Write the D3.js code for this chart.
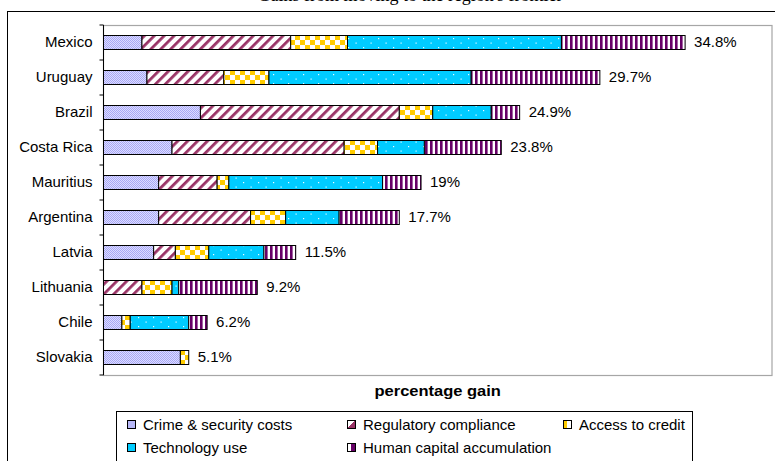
<!DOCTYPE html>
<html>
<head>
<meta charset="utf-8">
<script src="https://cdn.jsdelivr.net/npm/d3@7"></script>
<style>
  html, body { margin: 0; padding: 0; background: #fff; }
  svg { display: block; }
  text { font-family: "Liberation Sans", Arial, sans-serif; fill: #000; }
</style>
</head>
<body>
<svg id="chart" width="775" height="461"></svg>
<script>
// Countries, top to bottom
const countries = ["Mexico", "Uruguay", "Brazil", "Costa Rica", "Mauritius",
                   "Argentina", "Latvia", "Lithuania", "Chile", "Slovakia"];

// Gains (percentage points) from each factor
const crime      = [2.3, 2.6, 5.8, 4.1, 3.3, 3.3, 3.0, 0.0, 1.1, 4.6];
const regulatory = [8.9, 4.6, 11.9, 10.3, 3.5, 5.5, 1.3, 2.3, 0.0, 0.0];
const credit     = [3.4, 2.7, 2.0, 2.0, 0.7, 2.1, 2.0, 1.8, 0.5, 0.5];
const technology = [12.8, 12.1, 3.5, 2.8, 9.2, 3.2, 3.3, 0.4, 3.5, 0.0];
const humanCap   = [7.4, 7.7, 1.7, 4.6, 2.3, 3.6, 1.9, 4.7, 1.1, 0.0];

// Total gain labels
const totals = [34.8, 29.7, 24.9, 23.8, 19, 17.7, 11.5, 9.2, 6.2, 5.1];

const seriesNames = ["Crime & security costs", "Regulatory compliance", "Access to credit",
                     "Technology use", "Human capital accumulation"];
const seriesKeys = ["crime", "regulatory", "credit", "technology", "humanCap"];

const chartTitle = "Gains from moving to the region's frontier";
const axisTitle = "percentage gain";

const rows = countries.map((c, i) => ({
  country: c,
  crime: crime[i], regulatory: regulatory[i], credit: credit[i],
  technology: technology[i], humanCap: humanCap[i], total: totals[i]
}));

const svg = d3.select("#chart");

// Fill patterns for the five factors
const defs = svg.append("defs");

// crime: fine lavender stipple
const pCrime = defs.append("pattern").attr("id", "p-crime")
  .attr("patternUnits", "userSpaceOnUse").attr("width", 2).attr("height", 2);
pCrime.append("rect").attr("width", 2).attr("height", 2).attr("fill", "#dcdcff");
pCrime.append("rect").attr("width", 1).attr("height", 1).attr("fill", "#a8a8f5");
pCrime.append("rect").attr("x", 1).attr("y", 1).attr("width", 1).attr("height", 1).attr("fill", "#a8a8f5");

// regulatory: maroon diagonal stripes
const pReg = defs.append("pattern").attr("id", "p-reg")
  .attr("patternUnits", "userSpaceOnUse").attr("width", 7).attr("height", 7)
  .attr("patternTransform", "rotate(45)");
pReg.append("rect").attr("width", 7).attr("height", 7).attr("fill", "#fff");
pReg.append("rect").attr("width", 2.8).attr("height", 7).attr("fill", "#993366");

// access to credit: yellow checkerboard
const pCred = defs.append("pattern").attr("id", "p-credit")
  .attr("patternUnits", "userSpaceOnUse").attr("width", 10).attr("height", 10);
pCred.append("rect").attr("width", 10).attr("height", 10).attr("fill", "#fff");
pCred.append("rect").attr("width", 5).attr("height", 5).attr("fill", "#ffcc00");
pCred.append("rect").attr("x", 5).attr("y", 5).attr("width", 5).attr("height", 5).attr("fill", "#ffcc00");

// technology: cyan with sparse white dots
const pTech = defs.append("pattern").attr("id", "p-tech")
  .attr("patternUnits", "userSpaceOnUse").attr("width", 15).attr("height", 9);
pTech.append("rect").attr("width", 15).attr("height", 9).attr("fill", "#00ccff");
pTech.append("rect").attr("x", 3).attr("y", 2).attr("width", 1.2).attr("height", 1.2).attr("fill", "#e8fbff");
pTech.append("rect").attr("x", 10.5).attr("y", 6.5).attr("width", 1.2).attr("height", 1.2).attr("fill", "#e8fbff");

// human capital: purple vertical stripes
const pHum = defs.append("pattern").attr("id", "p-hum")
  .attr("patternUnits", "userSpaceOnUse").attr("width", 5).attr("height", 5);
pHum.append("rect").attr("width", 5).attr("height", 5).attr("fill", "#fff");
pHum.append("rect").attr("width", 2.6).attr("height", 5).attr("fill", "#660066");

const fills = ["url(#p-crime)", "url(#p-reg)", "url(#p-credit)", "url(#p-tech)", "url(#p-hum)"];
const legendFills = ["#b8b8f8", "url(#lg-reg)", "url(#lg-credit)", "#00ccff", "url(#lg-hum)"];

// small two-tone swatches for the legend markers
function splitGradient(id, a, b, angleX2, angleY2) {
  const g = defs.append("linearGradient").attr("id", id)
    .attr("x1", 0).attr("y1", 0).attr("x2", angleX2).attr("y2", angleY2);
  g.append("stop").attr("offset", "50%").attr("stop-color", a);
  g.append("stop").attr("offset", "50%").attr("stop-color", b);
}
splitGradient("lg-reg", "#fff", "#993366", 1, 1);
splitGradient("lg-credit", "#ffcc00", "#fff", 1, 0);
splitGradient("lg-hum", "#fff", "#660066", 1, 0);

// Outer chart frame
svg.append("rect").attr("x", 7.5).attr("y", 11.5).attr("width", 800).attr("height", 500)
  .attr("fill", "#fff").attr("stroke", "#000").attr("stroke-width", 1);

// Title (sits above the frame, mostly beyond the top edge)
svg.append("text").attr("x", 410).attr("y", 1).attr("text-anchor", "middle")
  .style("font-family", "'Liberation Serif', 'Times New Roman', serif")
  .style("font-size", "18px").text(chartTitle);

// Scales
const plot = { left: 103.5, right: 772, top: 25, bottom: 375 };
const x = d3.scaleLinear().domain([0, 40]).range([plot.left, plot.right]);
const y = d3.scaleBand().domain(countries).range([plot.top, plot.bottom]).paddingInner(0.6).paddingOuter(0.3);

// Plot area border
svg.append("rect").attr("x", plot.left).attr("y", plot.top + 0.5)
  .attr("width", plot.right - plot.left).attr("height", plot.bottom - plot.top)
  .attr("fill", "none").attr("stroke", "#a6a6a6").attr("stroke-width", 1.2);

// Stacked bars
const stack = d3.stack().keys(seriesKeys);
const layers = stack(rows);

svg.append("g").selectAll("g").data(layers).join("g")
  .attr("fill", (d, i) => fills[i])
  .selectAll("rect")
  .data(d => d.filter(s => s[1] - s[0] > 0))
  .join("rect")
  .attr("x", d => x(d[0]))
  .attr("y", d => y(d.data.country))
  .attr("width", d => x(d[1]) - x(d[0]))
  .attr("height", y.bandwidth())
  .attr("stroke", "#000").attr("stroke-width", 1);

// Total labels
svg.append("g").selectAll("text").data(rows).join("text")
  .attr("x", d => x(d.total) + 9)
  .attr("y", d => y(d.country) + y.bandwidth() / 2 - 1)
  .attr("dy", "0.35em")
  .style("font-size", "15px")
  .text(d => d.total + "%");

// Category axis
const yAxis = d3.axisLeft(y).tickSize(0).tickPadding(11);
const ax = svg.append("g").attr("transform", `translate(${plot.left},0)`).call(yAxis);
ax.select(".domain").attr("stroke", "#000").attr("d", `M0,${plot.top}V${plot.bottom}`);
ax.selectAll("text").style("font-size", "15px")
  .style("font-family", "'Liberation Sans', Arial, sans-serif");

// tick marks between categories
const boundaries = d3.range(countries.length + 1).map(i => plot.top + i * (plot.bottom - plot.top) / countries.length);
svg.append("g").selectAll("line").data(boundaries).join("line")
  .attr("x1", plot.left - 4).attr("x2", plot.left)
  .attr("y1", d => d).attr("y2", d => d)
  .attr("stroke", "#000");

// Axis title
svg.append("text").attr("x", (plot.left + plot.right) / 2).attr("y", 396)
  .attr("text-anchor", "middle").style("font-size", "15px").style("font-weight", "bold")
  .attr("transform", `translate(${(plot.left + plot.right) / 2},0) scale(1.1,1) translate(${-(plot.left + plot.right) / 2},0)`)
  .text(axisTitle);

// Legend
const legend = svg.append("g");
legend.append("rect").attr("x", 116.5).attr("y", 411.5).attr("width", 576).attr("height", 70)
  .attr("fill", "#fff").attr("stroke", "#000");
const legendPos = [[127, 425], [347, 425], [563, 425], [127, 448], [347, 448]];
seriesNames.forEach((name, i) => {
  const [lx, ly] = legendPos[i];
  legend.append("rect").attr("x", lx + 0.5).attr("y", ly - 4.5).attr("width", 8).attr("height", 8)
    .attr("fill", legendFills[i]).attr("stroke", "#000");
  legend.append("text").attr("x", lx + 16).attr("y", ly).attr("dy", "0.35em")
    .style("font-size", "15px").text(name);
});
</script>
</body>
</html>
